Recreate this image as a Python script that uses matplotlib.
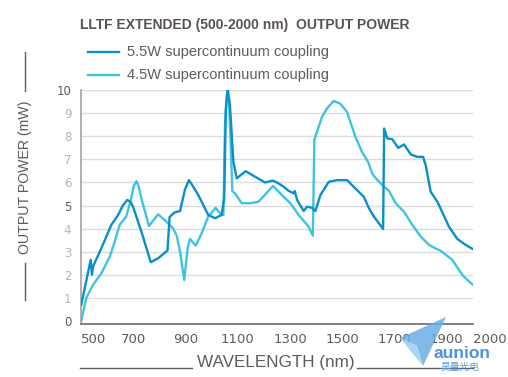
import matplotlib
matplotlib.use("Agg")
import matplotlib.pyplot as plt
from matplotlib.lines import Line2D
from matplotlib.patches import Polygon

# ---- data ----
wl_55 = [501, 537, 542, 546, 578, 616, 642, 660, 677, 690, 699, 731, 767, 795, 826, 831, 839, 858,
         879, 898, 913, 925, 949, 987, 1013, 1038, 1048, 1054, 1061, 1070, 1083, 1096, 1130, 1166,
         1204, 1233, 1250, 1276, 1295, 1314, 1318, 1327, 1352, 1365, 1384, 1397, 1416,
         1448, 1480, 1518, 1550, 1582, 1602, 1621, 1640, 1656, 1660, 1672, 1691, 1714,
         1736, 1762, 1787, 1809, 1819, 1838, 1864, 1908, 1940, 1972, 1998]
pw_55 = [0.69, 2.64, 2.0, 2.35, 3.15, 4.16, 4.59, 5.0, 5.24, 5.15, 4.95, 3.87, 2.54, 2.71, 3.0, 3.05, 4.5, 4.7,
         4.76, 5.7, 6.1, 5.9, 5.45, 4.59, 4.45, 4.59, 5.31, 9.13, 10.1, 9.35, 6.9, 6.18, 6.49, 6.25,
         6.0, 6.08, 6.0, 5.81, 5.63, 5.53, 5.63, 5.24, 4.76, 4.95, 4.9, 4.76, 5.45,
         6.03, 6.1, 6.1, 5.74, 5.38, 4.88, 4.52, 4.23, 3.98, 8.34, 7.91, 7.88, 7.5,
         7.65, 7.22, 7.11, 7.11, 6.75, 5.6, 5.16, 4.08, 3.55, 3.29, 3.12]

wl_45 = [501, 520, 546, 578, 610, 629, 648, 673, 692, 702, 712, 720, 731, 760, 795, 820, 852, 866,
         879, 895, 908, 917, 939, 962, 987, 1015, 1032, 1045, 1051, 1058, 1066, 1074, 1079,
         1089, 1115, 1147, 1179, 1217, 1235, 1269, 1301, 1333, 1371, 1387, 1393, 1403,
         1422, 1441, 1467, 1492, 1518, 1550, 1575, 1598, 1614, 1628, 1660, 1679, 1704,
         1736, 1768, 1800, 1832, 1851, 1877, 1921, 1959, 1985, 2000]
pw_45 = [0.0, 0.98, 1.56, 2.06, 2.78, 3.43, 4.16, 4.52, 5.31, 5.85, 6.06, 5.85, 5.31, 4.11, 4.62, 4.37, 4.01, 3.7,
         3.0, 1.77, 3.15, 3.55, 3.26, 3.8, 4.52, 4.9, 4.66, 4.59, 8.48, 9.78, 9.64, 7.33, 5.63,
         5.53, 5.1, 5.1, 5.16, 5.63, 5.85, 5.45, 5.1, 4.59, 4.08, 3.69, 7.84, 8.2,
         8.84, 9.21, 9.54, 9.42, 9.06, 7.98, 7.33, 6.9, 6.4, 6.18, 5.81, 5.63, 5.1,
         4.73, 4.16, 3.65, 3.29, 3.17, 3.03, 2.64, 1.99, 1.7, 1.56]

series_labels = ["5.5W supercontinuum coupling", "4.5W supercontinuum coupling"]
x_ticks = [500, 700, 900, 1100, 1300, 1500, 1700, 1900, 2000]
y_ticks = list(range(0, 11))
title = "LLTF EXTENDED (500-2000 nm)  OUTPUT POWER"
xlabel = "WAVELENGTH (nm)"
ylabel = "OUTPUT POWER (mW)"

C_DARK = "#0b8fc9"
C_LIGHT = "#3ec3e0"
TXT = "#615a5a"
GRID = "#dcdcdc"

W, H = 508, 377
fig = plt.figure(figsize=(W / 100, H / 100), dpi=100)

def fx(p):
    return p / W

def fy(p):
    return 1 - p / H

ax_l, ax_r, ax_t, ax_b = 81, 473, 90.3, 323.5
ax = fig.add_axes([fx(ax_l), fy(ax_b), fx(ax_r - ax_l), (ax_b - ax_t) / H])

ax.plot(wl_45, pw_45, color=C_LIGHT, lw=1.7, solid_joinstyle="round", zorder=3)
ax.plot(wl_55, pw_55, color=C_DARK, lw=1.7, solid_joinstyle="round", zorder=4)

ax.set_xlim(500, 2000)
ax.set_ylim(-0.12, 10)
ax.set_yticks(y_ticks)
ax.set_xticks(x_ticks)
ax.set_xticklabels([str(t) for t in x_ticks])
ax.set_yticklabels([str(t) for t in y_ticks])
ax.tick_params(length=0)
ax.tick_params(axis="x", pad=7, labelsize=9.5, labelcolor=TXT)
ax.tick_params(axis="y", pad=7, labelsize=8.5)
for lab, t in zip(ax.get_yticklabels(), y_ticks):
    lab.set_color(TXT if t in (0, 5, 10) else "#b8b4b4")
xl = ax.get_xticklabels()
xl[0].set_ha("left")
xl[-1].set_ha("left")

for y in y_ticks[1:]:
    ax.axhline(y, color=GRID, lw=1.0, zorder=1)
for s in ["top", "right"]:
    ax.spines[s].set_visible(False)
ax.spines["left"].set_color("#a8a2a2")
ax.spines["left"].set_linewidth(1.2)
ax.spines["bottom"].set_color("#6f6969")
ax.spines["bottom"].set_linewidth(1.2)

fonts = ["Liberation Sans", "DejaVu Sans"]

# title
fig.text(fx(80), fy(25), title, fontsize=10, fontweight="bold", color="#5a5252",
         family=fonts, ha="left", va="center")

# legend
for i, (lab, col) in enumerate(zip(series_labels, [C_DARK, C_LIGHT])):
    yy = 52 + 23 * i
    fig.add_artist(Line2D([fx(88), fx(119)], [fy(yy), fy(yy)], color=col, lw=1.7))
    fig.text(fx(127), fy(yy), lab, fontsize=10.5, color=TXT,
             family=fonts, ha="left", va="center")

# y label with rules
fig.text(fx(25), fy(177), ylabel, rotation=90, fontsize=10.2, color=TXT,
         family=fonts, ha="center", va="center")
fig.add_artist(Line2D([fx(25), fx(25)], [fy(52), fy(91)], color=TXT, lw=1.0))
fig.add_artist(Line2D([fx(25), fx(25)], [fy(263), fy(300)], color=TXT, lw=1.0))

# x label with rules
fig.text(fx(276), fy(362), xlabel, fontsize=12.3, color=TXT,
         family=fonts, ha="center", va="center")
fig.add_artist(Line2D([fx(80), fx(192)], [fy(367.5), fy(367.5)], color=TXT, lw=1.0))
fig.add_artist(Line2D([fx(357), fx(473)], [fy(367.5), fy(367.5)], color=TXT, lw=1.0))

# watermark logo
tri = [(400, 338), (446, 317), (423, 366), (417, 346)]
fig.add_artist(Polygon([(fx(a), fy(b)) for a, b in tri], closed=True,
                       facecolor="#6aaee6", edgecolor="none", alpha=0.85))
tri2 = [(400, 338), (417, 346), (423, 366)]
fig.add_artist(Polygon([(fx(a), fy(b)) for a, b in tri2], closed=True,
                       facecolor="#a6d6f3", edgecolor="none"))
fig.text(fx(462), fy(354), "aunion", fontsize=12.5, fontweight="bold", color="#4a94da",
         family=fonts, ha="center", va="center")
fig.text(fx(460), fy(367), "昊量光电", fontsize=7, color="#5aa0e2",
         family=["Noto Sans CJK SC", "DejaVu Sans"], ha="center", va="center")

fig.savefig("out.png", dpi=100)
